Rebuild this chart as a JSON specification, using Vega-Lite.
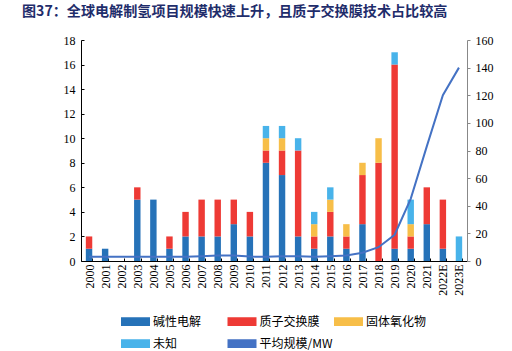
{
  "$schema": "https://vega.github.io/schema/vega-lite/v6.json",
  "width": 386,
  "height": 221,
  "autosize": {"type": "none"},
  "padding": {"left": 81, "top": 40, "right": 45, "bottom": 90},
  "background": "white",
  "config": {"view": {"stroke": null}, "axis": {"grid": false}},
  "title": {
    "text": "图37：全球电解制氢项目规模快速上升，且质子交换膜技术占比较高",
    "anchor": "start",
    "frame": "group",
    "dx": -59,
    "dy": -11,
    "font": "Noto Sans CJK SC",
    "fontSize": 14.1,
    "fontWeight": "bold",
    "color": "#1F2D6B"
  },
  "datasets": {
    "types": [
      {"type": "碱性电解", "rank": 1},
      {"type": "质子交换膜", "rank": 2},
      {"type": "固体氧化物", "rank": 3},
      {"type": "未知", "rank": 4}
    ],
    "bars": [
      {"year": "2000", "type": "碱性电解", "n": 1}, {"year": "2000", "type": "质子交换膜", "n": 1},
      {"year": "2001", "type": "碱性电解", "n": 1},
      {"year": "2003", "type": "碱性电解", "n": 5}, {"year": "2003", "type": "质子交换膜", "n": 1},
      {"year": "2004", "type": "碱性电解", "n": 5},
      {"year": "2005", "type": "碱性电解", "n": 1}, {"year": "2005", "type": "质子交换膜", "n": 1},
      {"year": "2006", "type": "碱性电解", "n": 2}, {"year": "2006", "type": "质子交换膜", "n": 2},
      {"year": "2007", "type": "碱性电解", "n": 2}, {"year": "2007", "type": "质子交换膜", "n": 3},
      {"year": "2008", "type": "碱性电解", "n": 2}, {"year": "2008", "type": "质子交换膜", "n": 3},
      {"year": "2009", "type": "碱性电解", "n": 3}, {"year": "2009", "type": "质子交换膜", "n": 2},
      {"year": "2010", "type": "碱性电解", "n": 2}, {"year": "2010", "type": "质子交换膜", "n": 2},
      {"year": "2011", "type": "碱性电解", "n": 8}, {"year": "2011", "type": "质子交换膜", "n": 1}, {"year": "2011", "type": "固体氧化物", "n": 1}, {"year": "2011", "type": "未知", "n": 1},
      {"year": "2012", "type": "碱性电解", "n": 7}, {"year": "2012", "type": "质子交换膜", "n": 2}, {"year": "2012", "type": "固体氧化物", "n": 1}, {"year": "2012", "type": "未知", "n": 1},
      {"year": "2013", "type": "碱性电解", "n": 2}, {"year": "2013", "type": "质子交换膜", "n": 7}, {"year": "2013", "type": "未知", "n": 1},
      {"year": "2014", "type": "碱性电解", "n": 1}, {"year": "2014", "type": "质子交换膜", "n": 1}, {"year": "2014", "type": "固体氧化物", "n": 1}, {"year": "2014", "type": "未知", "n": 1},
      {"year": "2015", "type": "碱性电解", "n": 2}, {"year": "2015", "type": "质子交换膜", "n": 2}, {"year": "2015", "type": "固体氧化物", "n": 1}, {"year": "2015", "type": "未知", "n": 1},
      {"year": "2016", "type": "碱性电解", "n": 1}, {"year": "2016", "type": "质子交换膜", "n": 1}, {"year": "2016", "type": "固体氧化物", "n": 1},
      {"year": "2017", "type": "碱性电解", "n": 3}, {"year": "2017", "type": "质子交换膜", "n": 4}, {"year": "2017", "type": "固体氧化物", "n": 1},
      {"year": "2018", "type": "质子交换膜", "n": 8}, {"year": "2018", "type": "固体氧化物", "n": 2},
      {"year": "2019", "type": "碱性电解", "n": 1}, {"year": "2019", "type": "质子交换膜", "n": 15}, {"year": "2019", "type": "未知", "n": 1},
      {"year": "2020", "type": "碱性电解", "n": 1}, {"year": "2020", "type": "质子交换膜", "n": 1}, {"year": "2020", "type": "固体氧化物", "n": 1}, {"year": "2020", "type": "未知", "n": 2},
      {"year": "2021", "type": "碱性电解", "n": 3}, {"year": "2021", "type": "质子交换膜", "n": 3},
      {"year": "2022E", "type": "碱性电解", "n": 1}, {"year": "2022E", "type": "质子交换膜", "n": 4},
      {"year": "2023E", "type": "未知", "n": 2}
    ],
    "line": [
      {"year": "2000", "avg": 3}, {"year": "2001", "avg": 3}, {"year": "2002", "avg": 3},
      {"year": "2003", "avg": 3}, {"year": "2004", "avg": 3}, {"year": "2005", "avg": 3},
      {"year": "2006", "avg": 3}, {"year": "2007", "avg": 3.5}, {"year": "2008", "avg": 4},
      {"year": "2009", "avg": 4}, {"year": "2010", "avg": 3.2}, {"year": "2011", "avg": 3},
      {"year": "2012", "avg": 3.5}, {"year": "2013", "avg": 3.5}, {"year": "2014", "avg": 3},
      {"year": "2015", "avg": 3.5}, {"year": "2016", "avg": 4}, {"year": "2017", "avg": 6},
      {"year": "2018", "avg": 10}, {"year": "2019", "avg": 19}, {"year": "2020", "avg": 45},
      {"year": "2021", "avg": 83}, {"year": "2022E", "avg": 120}, {"year": "2023E", "avg": 140}
    ]
  },
  "encoding": {
    "x": {
      "field": "year",
      "type": "nominal",
      "scale": {"paddingInner": 0.6, "paddingOuter": 0.3},
      "axis": {
        "title": null,
        "labelAngle": -90,
        "labelFont": "Liberation Serif",
        "labelFontSize": 12,
        "labelColor": "#000",
        "domainColor": "#000",
        "tickColor": "#000",
        "tickBand": "extent",
        "tickSize": -3,
        "labelPadding": 6
      }
    }
  },
  "layer": [
    {
      "data": {"name": "bars"},
      "transform": [
        {"lookup": "type", "from": {"data": {"name": "types"}, "key": "type", "fields": ["rank"]}}
      ],
      "mark": {"type": "bar"},
      "encoding": {
        "y": {
          "field": "n",
          "type": "quantitative",
          "aggregate": "sum",
          "scale": {"domain": [0, 18]},
          "axis": {
            "title": null,
            "values": [0, 2, 4, 6, 8, 10, 12, 14, 16, 18],
            "labelFont": "Liberation Serif",
            "labelFontSize": 12,
            "labelColor": "#000",
            "domainColor": "#000",
            "tickColor": "#000",
            "tickSize": -3,
            "labelPadding": 9
          }
        },
        "order": {"field": "rank", "type": "quantitative", "sort": "ascending"},
        "color": {
          "field": "type",
          "type": "nominal",
          "sort": ["碱性电解", "质子交换膜", "固体氧化物", "未知", "平均规模/MW"],
          "scale": {
            "domain": ["碱性电解", "质子交换膜", "固体氧化物", "未知", "平均规模/MW"],
            "range": ["#2672B8", "#EE3A35", "#F7BE48", "#48B3EA", "#4472C4"]
          },
          "legend": {
            "title": null,
            "orient": "none",
            "direction": "horizontal",
            "legendX": 40,
            "legendY": 267,
            "columns": 3,
            "gridAlign": "all",
            "columnPadding": -1.5,
            "rowPadding": -5.4,
            "symbolSize": 729,
            "symbolType": "M-1,-0.25H1V0.25H-1Z",
            "labelFont": "Noto Sans CJK SC",
            "labelFontSize": 12,
            "labelColor": "#000",
            "labelOffset": 3,
            "encoding": {
              "symbols": {
                "shape": {"signal": "datum.value === '平均规模/MW' ? 'stroke' : 'M-1,-0.25H1V0.25H-1Z'"},
                "fill": {"signal": "scale('color', datum.value)"},
                "stroke": {"signal": "datum.value === '平均规模/MW' ? scale('color', datum.value) : 'transparent'"},
                "strokeWidth": {"value": 2},
                "opacity": {"value": 1}
              }
            }
          }
        }
      }
    },
    {
      "data": {"name": "line"},
      "mark": {"type": "line", "strokeWidth": 2},
      "encoding": {
        "y": {
          "field": "avg",
          "type": "quantitative",
          "scale": {"domain": [0, 160]},
          "axis": {
            "orient": "right",
            "title": null,
            "values": [0, 20, 40, 60, 80, 100, 120, 140, 160],
            "labelFont": "Liberation Serif",
            "labelFontSize": 12,
            "labelColor": "#000",
            "domainColor": "#888",
            "tickColor": "#888",
            "tickSize": 3,
            "labelPadding": 5
          }
        },
        "color": {"datum": "平均规模/MW"}
      }
    }
  ],
  "resolve": {"scale": {"y": "independent"}}
}
